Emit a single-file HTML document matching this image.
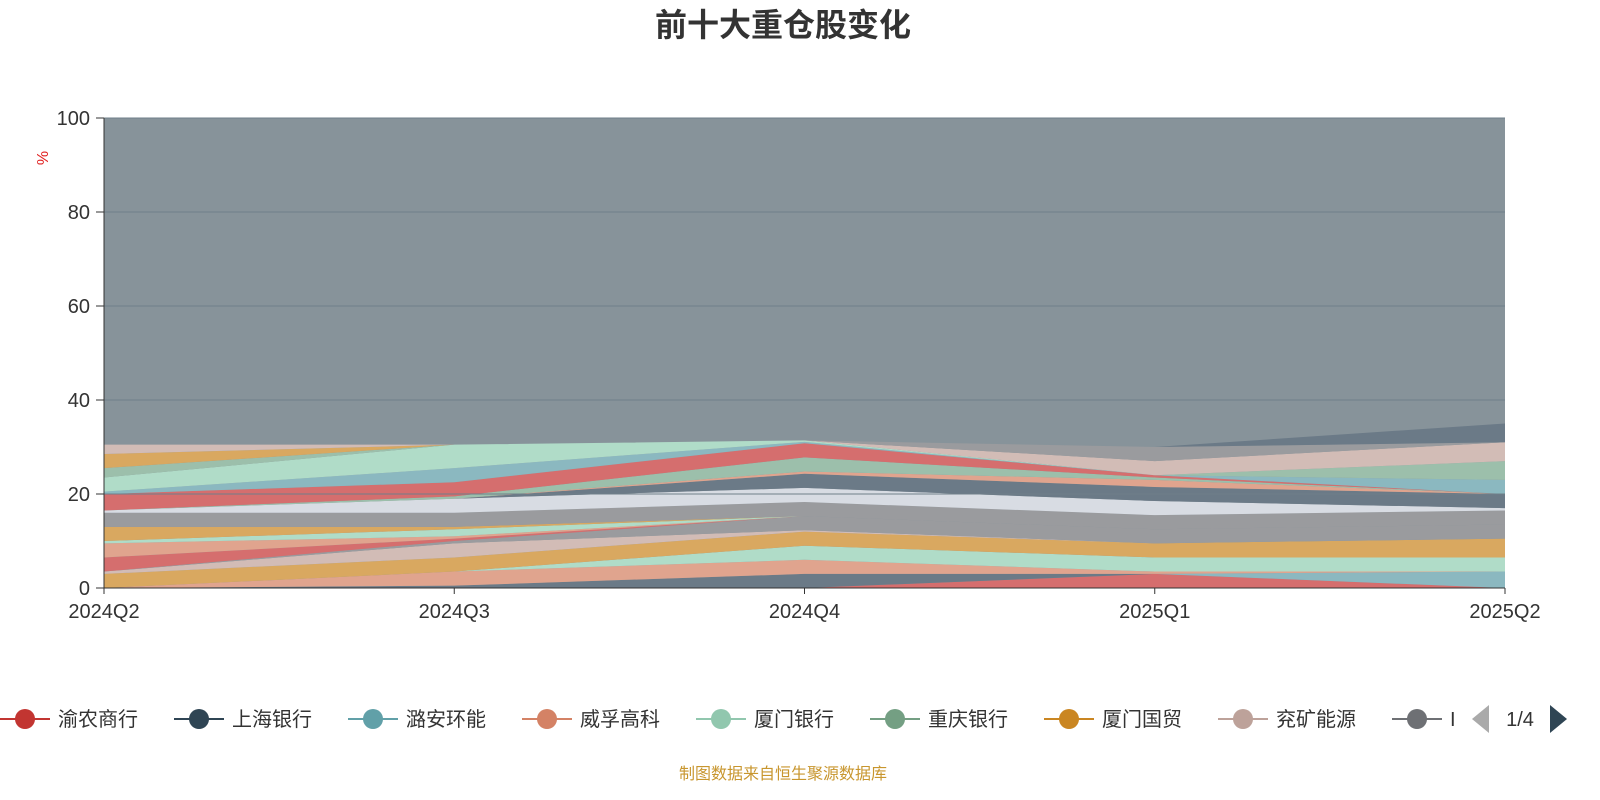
<!DOCTYPE html>
<html><head><meta charset="utf-8">
<style>
html,body{margin:0;padding:0;background:#fff;overflow:hidden;width:1600px;height:800px;font-family:"Liberation Sans","Noto Sans CJK SC",sans-serif;}
svg{display:block;}
svg text{font-family:"Liberation Sans","Noto Sans CJK SC",sans-serif;}
</style></head>
<body>
<svg id="chart" width="1600" height="800" xmlns="http://www.w3.org/2000/svg">
<text x="783" y="36" text-anchor="middle" font-size="32" font-weight="bold" fill="#333">前十大重仓股变化</text>
<text x="48" y="158" font-size="16" fill="#e02020" transform="rotate(-90 48 158)" text-anchor="middle">%</text>
<g id="areas"></g>
<g id="grid"></g>
<g id="axes"></g>
<g id="legend"></g>
<text x="783" y="779" text-anchor="middle" font-size="16" fill="#c8962e">制图数据来自恒生聚源数据库</text>
</svg>
<script>
const categories=["2024Q2","2024Q3","2024Q4","2025Q1","2025Q2"];
const yTicks=[0,20,40,60,80,100];
const seriesColors=["#d56e6e","#6b7a87","#8bb8c0","#e0a48e","#b0dcc8","#d9a860","#d2bcb6","#9a9b9e","#d56e6e","#e0a48e","#b0dcc8","#d9a860","#9a9b9e","#d8dce3","#6b7a87","#e0a48e","#9cbfab","#d56e6e","#8bb8c0","#b0dcc8","#9cbfab","#d9a860","#d2bcb6","#9a9b9e","#6b7a87"];
const s1=[0,0,0,3,0];
const s2=[0,0.5,3,0,0];
const s3=[0,0,0,0,3.5];
const s4=[0,3,3,0.5,0];
const s5=[0,0,3,3,3];
const s6=[3,3,3,3,4];
const s7=[0.5,3,0.3,0,0];
const s8=[0,0.5,3,3,3];
const s9=[3,0.5,0,0,0];
const s10=[3,0.5,0,0,0];
const s11=[0.5,1.5,0,0,0];
const s12=[3,0.5,0,0,0];
const s13=[3,3,3,3,3];
const s14=[0.5,3,3,3,0.5];
const s15=[0,0,3,3,3];
const s16=[0,0,0.5,1.5,0];
const s17=[0,0.5,3,0.5,0];
const s18=[3.5,3,3,0.5,0];
const s19=[0.5,3,0.3,0,3];
const s20=[3,5,0.3,0,0];
const s21=[2,0,0,0,4];
const s22=[3,0,0,0,0];
const s23=[2,0,0,3,4];
const s24=[0,0,0,3,0];
const s25=[0,0,0,0,4];
const seriesValues=[s1,s2,s3,s4,s5,s6,s7,s8,s9,s10,s11,s12,s13,s14,s15,s16,s17,s18,s19,s20,s21,s22,s23,s24,s25];
const legendNames=["渝农商行","上海银行","潞安环能","威孚高科","厦门银行","重庆银行","厦门国贸","兖矿能源","I"];
const legendColors=["#c23531","#2f4554","#61a0a8","#d48265","#91c7ae","#749f83","#ca8622","#bda29a","#6e7074"];

const NS="http://www.w3.org/2000/svg";
const X0=104,X1=1505,Y0=588,Y1=118;
const xs=i=>X0+(X1-X0)*i/(categories.length-1);
const ys=v=>Y0-(Y0-Y1)*v/100;
function mk(tag,attrs,parent){const e=document.createElementNS(NS,tag);for(const k in attrs)e.setAttribute(k,attrs[k]);parent.appendChild(e);return e;}
const areas=document.getElementById('areas');
const bg=mk('rect',{x:X0,y:Y1,width:X1-X0,height:Y0-Y1,fill:"#87939a"},areas);


let base=categories.map(()=>0);
seriesValues.forEach((vals,si)=>{
  const top=base.map((b,i)=>b+vals[i]);
  let d="M"+categories.map((c,i)=>xs(i)+","+ys(top[i])).join("L");
  for(let i=categories.length-1;i>=0;i--)d+="L"+xs(i)+","+ys(base[i]);
  d+="Z";
  const p=mk('path',{d:d,fill:seriesColors[si],stroke:"none"},areas);
  
  
  base=top;
});
const grid=document.getElementById('grid');
yTicks.forEach(t=>{
  if(t===0)return;
  const l=mk('line',{x1:X0,x2:X1,y1:ys(t),y2:ys(t),stroke:"#6f7f89","stroke-width":1},grid);
  
  
});
const axes=document.getElementById('axes');
const ya=mk('line',{x1:X0,x2:X0,y1:Y1,y2:Y0,stroke:"#333","stroke-width":1},axes);


const xa=mk('line',{x1:X0,x2:X1,y1:Y0,y2:Y0,stroke:"#333","stroke-width":1},axes);


yTicks.forEach(t=>{
  mk('line',{x1:X0-8,x2:X0,y1:ys(t),y2:ys(t),stroke:"#333"},axes);
  const tx=mk('text',{x:X0-14,y:ys(t)+7,"text-anchor":"end","font-size":20,fill:"#333"},axes);
  tx.textContent=t;
  
  
});
categories.forEach((c,i)=>{
  mk('line',{x1:xs(i),x2:xs(i),y1:Y0,y2:Y0+6,stroke:"#333"},axes);
  const tx=mk('text',{x:xs(i),y:618,"text-anchor":"middle","font-size":20,fill:"#333"},axes);
  tx.textContent=c;
  
  
});
const lg=document.getElementById('legend');
const lx=[0,174,348,522,696,870,1044,1218,1392];
legendNames.forEach((n,i)=>{
  const g=mk('g',{},lg);
  
  
  const x=lx[i];
  mk('line',{x1:x,x2:x+50,y1:719,y2:719,stroke:legendColors[i],"stroke-width":2},g);
  mk('circle',{cx:x+25,cy:719,r:10,fill:legendColors[i]},g);
  const t=mk('text',{x:x+58,y:726,"font-size":20,fill:"#333"},g);
  t.textContent=n;
});
const prev=mk('polygon',{points:"1472,719 1489,705 1489,733",fill:"#aaa"},lg);


const pg=mk('text',{x:1520,y:726,"text-anchor":"middle","font-size":20,fill:"#333"},lg);
pg.textContent="1/4";


const next=mk('polygon',{points:"1550,705 1567,719 1550,733",fill:"#2f4554"},lg);


</script>
</body></html>
